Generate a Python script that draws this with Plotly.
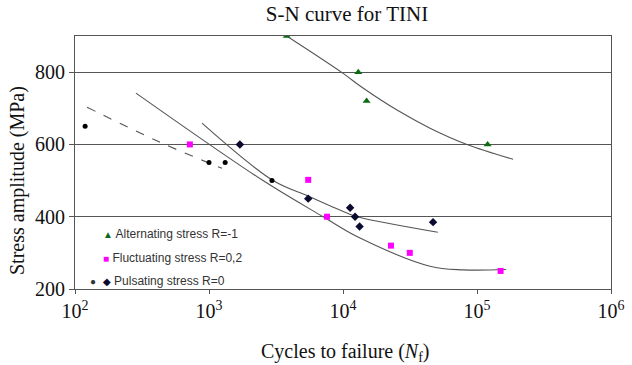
import plotly.graph_objects as go

# Measured fatigue data (cycles to failure, stress amplitude in MPa)
alt_n = [3800, 13000, 15000, 120000]
alt_s = [900, 800, 720, 600]

fluc_n = [720, 5500, 7600, 22800, 31500, 150000]
fluc_s = [600, 502, 400, 320, 300, 250]

puls_circ_n = [119, 1000, 1320, 2950]
puls_circ_s = [650, 550, 550, 500]

puls_diam_n = [1700, 5500, 11300, 12300, 13300, 47000]
puls_diam_s = [600, 450, 425, 400, 373, 385]

# Trend curves through the data
alt_fit_n = [3800, 9900, 14100, 25300, 44600, 84100, 186000]
alt_fit_s = [900, 798, 756, 695, 645, 600, 559]

circ_fit_n = [123, 431, 1250]
circ_fit_s = [703, 606, 534]

fluc_fit_n = [285, 2530, 7100, 13400, 44600, 78700, 165000]
fluc_fit_s = [742, 500, 400, 341, 263, 253, 254]

diam_fit_n = [887, 3010, 5480, 10700, 12700, 51000]
diam_fit_s = [659, 500, 457, 410, 400, 357]

x_tick_vals = [100, 1000, 10000, 100000, 1000000]
x_tick_text = ["10<sup>2</sup>", "10<sup>3</sup>", "10<sup>4</sup>", "10<sup>5</sup>", "10<sup>6</sup>"]
y_tick_vals = [200, 400, 600, 800]

line_col = "#555555"
serif = "Liberation Serif, Times New Roman, serif"
sans = "Liberation Sans, Arial, sans-serif"

# plot area in pixels
L, R, T, B = 75, 611, 36, 289
W, H = R - L, B - T


def px_x(p):
    return (p - L) / W


def px_y(p):
    return 1 - (p - T) / H


fig = go.Figure()

for xs, ys, dash in [(alt_fit_n, alt_fit_s, "solid"), (circ_fit_n, circ_fit_s, "dash"),
                     (fluc_fit_n, fluc_fit_s, "solid"), (diam_fit_n, diam_fit_s, "solid")]:
    fig.add_trace(go.Scatter(x=xs, y=ys, mode="lines",
                             line=dict(color=line_col, width=1.1, dash=dash, shape="spline", smoothing=1.0),
                             showlegend=False, hoverinfo="skip"))

fig.add_trace(go.Scatter(x=alt_n, y=alt_s, mode="markers", name="Alternating stress R=-1",
                         marker=dict(symbol="triangle-up", size=7, color="#0b6b12")))
fig.add_trace(go.Scatter(x=fluc_n, y=fluc_s, mode="markers", name="Fluctuating stress R=0,2",
                         marker=dict(symbol="square", size=6, color="#ff00ff")))
fig.add_trace(go.Scatter(x=puls_circ_n, y=puls_circ_s, mode="markers", name="Pulsating stress R=0",
                         marker=dict(symbol="circle", size=5, color="#000000")))
fig.add_trace(go.Scatter(x=puls_diam_n, y=puls_diam_s, mode="markers", name="Pulsating stress R=0",
                         marker=dict(symbol="diamond", size=6.5, color="#0a0a30")))

# Legend drawn inside the plot area
legend_items = [
    ("<span style='color:#0b6b12;font-size:10px'>▲</span> Alternating stress R=-1", 101, 234),
    ("<span style='color:#ff00ff;font-size:10px'>■</span> Fluctuating stress R=0,2", 101, 258),
    ("<span style='font-size:10px'>●</span>  <span style='color:#0a0a30;font-size:10px'>◆</span> Pulsating stress R=0", 88, 281),
]
anns = []
for text, px, py in legend_items:
    anns.append(dict(text=text, xref="paper", yref="paper", x=px_x(px), y=px_y(py),
                     xanchor="left", yanchor="middle", showarrow=False,
                     font=dict(family=sans, size=12, color="#333333")))

# Axis titles
anns.append(dict(text="Stress amplitude (MPa)", xref="paper", yref="paper",
                 x=px_x(17), y=px_y(181), xanchor="center", yanchor="middle",
                 textangle=-90, showarrow=False,
                 font=dict(family=serif, size=20, color="#111111")))
anns.append(dict(text="Cycles to failure (<i>N</i><sub>f</sub>)", xref="paper", yref="paper",
                 x=px_x(345), y=px_y(352), xanchor="center", yanchor="middle", showarrow=False,
                 font=dict(family=serif, size=20, color="#111111")))

fig.update_layout(
    width=632, height=365,
    margin=dict(l=L, r=632 - R, t=T, b=365 - B),
    paper_bgcolor="white", plot_bgcolor="white",
    showlegend=False,
    title=dict(text="S-N curve for TINI", x=347 / 632, xanchor="center", y=1 - 14 / 365, yanchor="middle",
               font=dict(family=serif, size=21, color="#111111")),
    annotations=anns,
    xaxis=dict(type="log", range=[2, 6], tickvals=x_tick_vals, ticktext=x_tick_text,
               showgrid=False, showline=True, linecolor="#555555", linewidth=1, mirror=True,
               ticks="outside", ticklen=4, tickcolor="#555555", automargin=False,
               tickfont=dict(family=serif, size=20, color="#111111")),
    yaxis=dict(range=[200, 900], tickvals=y_tick_vals,
               showgrid=True, gridcolor="#555555", gridwidth=1,
               showline=True, linecolor="#555555", linewidth=1, mirror=True,
               ticks="outside", ticklen=5, tickcolor="#555555", automargin=False,
               tickfont=dict(family=serif, size=20, color="#111111")),
)

fig.write_html("out.html")
